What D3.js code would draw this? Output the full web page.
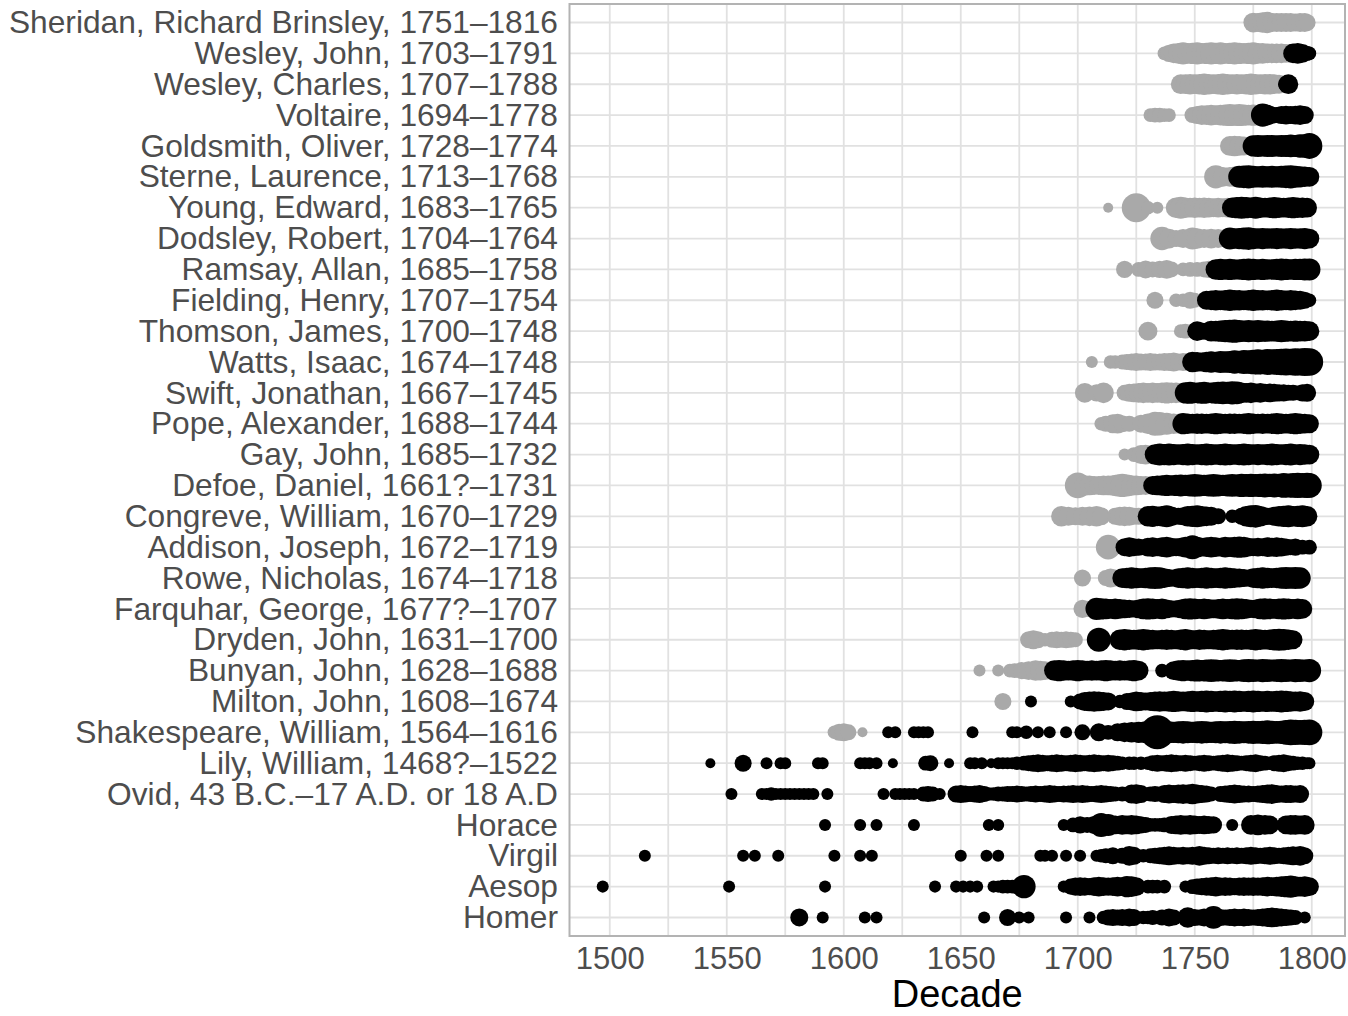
<!DOCTYPE html>
<html>
<head>
<meta charset="utf-8">
<script src="https://cdn.jsdelivr.net/npm/d3@7"></script>
<style>
  body { margin: 0; background: #fff; }
  text { font-family: "Liberation Sans", Arial, sans-serif; }
</style>
</head>
<body>
<div id="chart"></div>
<script>
// authors, top to bottom, and year of death (null = ancient, always black)
const authors = [
  "Sheridan, Richard Brinsley, 1751–1816", "Wesley, John, 1703–1791", "Wesley, Charles, 1707–1788",
  "Voltaire, 1694–1778", "Goldsmith, Oliver, 1728–1774", "Sterne, Laurence, 1713–1768",
  "Young, Edward, 1683–1765", "Dodsley, Robert, 1704–1764", "Ramsay, Allan, 1685–1758",
  "Fielding, Henry, 1707–1754", "Thomson, James, 1700–1748", "Watts, Isaac, 1674–1748",
  "Swift, Jonathan, 1667–1745", "Pope, Alexander, 1688–1744", "Gay, John, 1685–1732",
  "Defoe, Daniel, 1661?–1731", "Congreve, William, 1670–1729", "Addison, Joseph, 1672–1719",
  "Rowe, Nicholas, 1674–1718", "Farquhar, George, 1677?–1707", "Dryden, John, 1631–1700",
  "Bunyan, John, 1628–1688", "Milton, John, 1608–1674", "Shakespeare, William, 1564–1616",
  "Lily, William, 1468?–1522", "Ovid, 43 B.C.–17 A.D. or 18 A.D", "Horace", "Virgil", "Aesop", "Homer"
];
const deaths = [1816, 1791, 1788, 1778, 1774, 1768, 1765, 1764, 1758, 1754, 1748, 1748, 1745, 1744, 1732,
  1731, 1729, 1719, 1718, 1707, 1700, 1688, 1674, 1616, 1522, null, null, null, null, null];

// [year, number of editions]
const sheridan = [[1775,9],[1777,8],[1779,10],[1781,11],[1783,8],[1785,8],[1787,8],[1789,8],[1791,8],[1793,7],[1795,8],[1797,8],[1798,6]];
const wesleyJ = [[1737,3],[1739,6],[1741,9],[1743,10],[1745,12],[1747,10],[1749,11],[1751,12],[1753,10],[1755,11],[1757,12],[1759,11],[1761,12],[1763,10],[1765,11],[1767,12],[1769,11],[1771,10],[1773,11],[1775,12],[1777,10],[1779,10],[1781,9],[1783,9],[1785,9],[1787,9],[1789,8],[1791,8],[1792,9],[1794,10],[1796,8],[1798,4],[1799,3]];
const wesleyC = [[1744,9],[1746,9],[1748,10],[1750,9],[1752,10],[1754,11],[1756,10],[1758,9],[1760,10],[1762,11],[1764,10],[1766,9],[1768,10],[1770,9],[1772,10],[1774,11],[1776,10],[1778,9],[1780,10],[1782,10],[1784,9],[1786,8],[1789,5],[1790,9]];
const voltaire = [[1731,3],[1733,4],[1735,4],[1737,3],[1739,3],[1749,5],[1751,7],[1753,9],[1755,9],[1757,10],[1759,9],[1761,10],[1763,11],[1765,12],[1767,11],[1769,12],[1771,11],[1773,10],[1775,11],[1777,10],[1779,14],[1781,10],[1783,6],[1785,5],[1787,7],[1789,8],[1791,7],[1793,8],[1795,9],[1797,7]];
const goldsmith = [[1765,9],[1767,10],[1769,9],[1771,8],[1773,7],[1775,11],[1777,12],[1779,11],[1781,12],[1783,12],[1785,11],[1787,12],[1789,12],[1791,13],[1793,12],[1795,14],[1797,14],[1799,18]];
const sterne = [[1759,14],[1762,9],[1765,9],[1767,10],[1769,12],[1771,13],[1773,14],[1775,12],[1777,11],[1779,12],[1781,11],[1783,12],[1785,11],[1787,12],[1789,13],[1791,14],[1793,12],[1795,11],[1797,10],[1799,9]];
const young = [[1713,1],[1725,24],[1730,3],[1734,2],[1742,10],[1744,12],[1746,10],[1748,9],[1750,10],[1752,9],[1754,10],[1756,9],[1758,8],[1760,9],[1762,8],[1764,9],[1766,10],[1768,11],[1770,12],[1772,11],[1774,10],[1776,12],[1778,10],[1780,9],[1782,10],[1784,11],[1786,10],[1788,9],[1790,10],[1792,11],[1794,10],[1796,10],[1798,9]];
const dodsley = [[1736,14],[1739,9],[1742,6],[1745,8],[1749,12],[1751,10],[1754,8],[1757,9],[1760,8],[1765,12],[1767,10],[1769,11],[1771,12],[1773,13],[1775,11],[1777,10],[1779,11],[1781,10],[1783,10],[1785,11],[1787,10],[1789,10],[1791,11],[1793,10],[1795,10],[1797,11],[1799,9]];
const ramsay = [[1720,6],[1726,4],[1729,7],[1732,5],[1735,6],[1738,8],[1740,5],[1745,3],[1748,4],[1751,4],[1754,5],[1756,6],[1759,10],[1761,11],[1763,10],[1765,11],[1767,10],[1769,10],[1771,11],[1773,12],[1775,11],[1777,10],[1779,11],[1781,10],[1783,10],[1785,11],[1787,12],[1789,11],[1791,10],[1793,11],[1795,11],[1797,12],[1799,12]];
const fielding = [[1733,6],[1742,3],[1745,3],[1748,6],[1750,4],[1755,8],[1757,9],[1759,10],[1761,9],[1763,10],[1765,11],[1767,10],[1769,10],[1771,9],[1773,10],[1775,11],[1777,10],[1779,10],[1781,9],[1783,10],[1785,11],[1787,10],[1789,9],[1791,10],[1793,9],[1795,8],[1797,6],[1799,3]];
const thomson = [[1730,8],[1744,3],[1746,4],[1751,9],[1753,6],[1755,6],[1757,10],[1759,10],[1761,11],[1763,12],[1765,13],[1767,14],[1769,12],[1771,11],[1773,12],[1775,11],[1777,12],[1779,11],[1781,11],[1783,10],[1785,11],[1787,12],[1789,11],[1791,10],[1793,11],[1795,10],[1797,10],[1799,9]];
const watts = [[1706,2],[1714,3],[1716,3],[1719,4],[1721,5],[1723,6],[1725,7],[1727,6],[1729,6],[1731,7],[1733,6],[1735,6],[1737,7],[1739,7],[1741,8],[1743,6],[1745,7],[1747,7],[1749,10],[1751,9],[1753,8],[1755,10],[1757,11],[1759,10],[1761,12],[1763,11],[1765,12],[1767,14],[1769,13],[1771,15],[1773,14],[1775,16],[1777,17],[1779,16],[1781,18],[1783,17],[1785,18],[1787,19],[1789,20],[1791,19],[1793,21],[1795,20],[1797,22],[1799,21]];
const swift = [[1703,9],[1708,6],[1711,10],[1720,5],[1722,7],[1724,8],[1726,9],[1728,10],[1730,9],[1732,10],[1734,9],[1736,10],[1738,11],[1740,10],[1742,10],[1744,9],[1746,11],[1748,12],[1750,10],[1752,11],[1754,12],[1756,10],[1758,11],[1760,12],[1762,13],[1764,12],[1766,14],[1768,13],[1770,10],[1772,9],[1774,10],[1776,8],[1778,9],[1780,7],[1782,8],[1784,7],[1786,6],[1788,6],[1790,5],[1792,5],[1794,4],[1796,6],[1798,7]];
const pope = [[1710,3],[1712,5],[1715,8],[1717,9],[1719,6],[1722,5],[1727,7],[1730,10],[1733,15],[1735,14],[1738,12],[1741,10],[1743,9],[1745,11],[1747,10],[1749,9],[1751,10],[1753,10],[1755,9],[1757,10],[1759,11],[1761,10],[1763,9],[1765,10],[1767,10],[1769,9],[1771,10],[1773,11],[1775,10],[1777,9],[1779,10],[1781,9],[1783,10],[1785,11],[1787,10],[1789,9],[1791,10],[1793,11],[1795,10],[1797,9],[1799,8]];
const gay = [[1720,2],[1724,4],[1727,8],[1729,9],[1731,7],[1733,10],[1735,12],[1737,11],[1739,12],[1741,11],[1743,10],[1745,11],[1747,12],[1749,11],[1751,10],[1753,11],[1755,12],[1757,11],[1759,10],[1761,11],[1763,12],[1765,11],[1767,10],[1769,11],[1771,12],[1773,11],[1775,10],[1777,11],[1779,10],[1781,11],[1783,12],[1785,11],[1787,10],[1789,11],[1791,12],[1793,10],[1795,11],[1797,10],[1799,9]];
const defoe = [[1700,18],[1703,10],[1705,9],[1707,8],[1709,8],[1711,9],[1713,9],[1715,10],[1717,12],[1719,14],[1721,12],[1723,10],[1725,9],[1727,8],[1729,8],[1732,8],[1734,9],[1736,10],[1738,11],[1740,10],[1742,11],[1744,12],[1746,11],[1748,12],[1750,13],[1752,12],[1754,11],[1756,12],[1758,13],[1760,12],[1762,11],[1764,12],[1766,13],[1768,12],[1770,14],[1772,13],[1774,14],[1776,13],[1778,14],[1780,15],[1782,14],[1784,15],[1786,14],[1788,16],[1790,15],[1792,16],[1794,17],[1796,16],[1798,17],[1799,16]];
const congreve = [[1693,10],[1696,8],[1699,7],[1702,8],[1705,9],[1708,10],[1710,7],[1716,6],[1718,8],[1720,9],[1722,8],[1724,6],[1726,6],[1728,6],[1730,10],[1732,11],[1734,9],[1736,10],[1738,12],[1740,9],[1743,6],[1745,7],[1747,10],[1749,11],[1751,12],[1753,10],[1755,9],[1757,8],[1760,5],[1766,3],[1770,6],[1772,10],[1774,12],[1776,13],[1778,10],[1780,7],[1782,6],[1784,8],[1786,10],[1788,11],[1790,12],[1792,10],[1794,11],[1796,12],[1798,10]];
const addison = [[1713,16],[1720,7],[1722,9],[1724,7],[1726,6],[1728,5],[1730,8],[1732,9],[1734,7],[1736,9],[1738,10],[1740,8],[1742,7],[1744,8],[1746,10],[1749,15],[1751,10],[1753,8],[1755,9],[1757,10],[1759,9],[1761,8],[1763,10],[1765,9],[1767,10],[1769,11],[1771,10],[1773,8],[1775,7],[1777,8],[1779,7],[1781,9],[1783,8],[1785,9],[1787,8],[1789,6],[1791,5],[1793,6],[1796,4],[1799,4]];
const rowe = [[1702,6],[1712,5],[1714,8],[1716,6],[1719,9],[1721,10],[1723,11],[1725,10],[1727,9],[1729,10],[1731,11],[1733,12],[1735,11],[1737,9],[1739,7],[1741,6],[1743,9],[1745,10],[1747,11],[1749,10],[1751,9],[1753,10],[1755,11],[1757,10],[1759,9],[1761,10],[1763,11],[1765,10],[1767,9],[1769,8],[1771,7],[1773,6],[1775,9],[1777,10],[1779,11],[1781,10],[1783,9],[1785,10],[1787,11],[1789,12],[1791,11],[1793,12],[1795,11]];
const farquhar = [[1702,7],[1704,5],[1708,12],[1710,11],[1712,10],[1714,9],[1716,10],[1718,9],[1720,8],[1722,7],[1724,6],[1726,8],[1728,10],[1730,11],[1732,10],[1734,9],[1736,10],[1738,8],[1740,6],[1742,6],[1744,8],[1746,10],[1748,11],[1750,10],[1752,9],[1754,10],[1756,9],[1758,8],[1760,9],[1762,10],[1764,9],[1766,10],[1768,11],[1770,10],[1772,9],[1774,7],[1776,8],[1778,10],[1780,11],[1782,10],[1784,9],[1786,10],[1788,11],[1790,10],[1792,9],[1794,10],[1796,9]];
const dryden = [[1679,6],[1681,8],[1683,6],[1686,3],[1689,5],[1691,6],[1693,5],[1695,6],[1697,5],[1699,4],[1709,15],[1718,10],[1720,11],[1722,10],[1724,9],[1726,10],[1728,11],[1730,10],[1732,9],[1734,8],[1736,9],[1738,10],[1740,9],[1742,8],[1744,10],[1746,11],[1748,9],[1750,8],[1752,10],[1754,9],[1756,8],[1758,9],[1760,10],[1762,11],[1764,10],[1766,9],[1768,10],[1770,10],[1772,9],[1774,10],[1776,11],[1778,10],[1780,9],[1782,10],[1784,11],[1786,12],[1788,11],[1790,10],[1792,8]];
const bunyan = [[1658,2],[1666,2],[1671,3],[1673,4],[1676,6],[1679,8],[1682,10],[1684,9],[1686,8],[1688,7],[1690,10],[1692,11],[1694,10],[1696,9],[1698,10],[1700,11],[1702,10],[1704,9],[1706,10],[1708,9],[1710,10],[1712,11],[1714,10],[1716,9],[1718,10],[1720,9],[1722,10],[1724,11],[1726,9],[1736,3],[1741,8],[1743,10],[1745,11],[1747,10],[1749,11],[1751,12],[1753,11],[1755,12],[1757,13],[1759,12],[1761,11],[1763,12],[1765,13],[1767,12],[1769,11],[1771,13],[1773,14],[1775,13],[1777,12],[1779,14],[1781,13],[1783,12],[1785,13],[1787,14],[1789,13],[1791,12],[1793,14],[1795,13],[1797,12],[1799,14]];
const milton = [[1668,6],[1680,2],[1697,2],[1701,5],[1703,8],[1705,9],[1707,10],[1709,9],[1711,8],[1713,7],[1718,3],[1721,6],[1723,7],[1725,9],[1727,8],[1729,7],[1731,8],[1733,9],[1735,10],[1737,9],[1739,10],[1741,11],[1743,10],[1745,9],[1747,10],[1749,11],[1751,10],[1753,11],[1755,12],[1757,11],[1759,10],[1761,11],[1763,12],[1765,11],[1767,12],[1769,11],[1771,10],[1773,11],[1775,12],[1777,11],[1779,10],[1781,11],[1783,10],[1785,11],[1787,12],[1789,11],[1791,10],[1793,9],[1795,10],[1797,8]];
const shakespeare = [[1596,3],[1598,6],[1600,7],[1602,5],[1608,1],[1619,2],[1622,2],[1630,2],[1632,2],[1634,2],[1636,2],[1655,2],[1672,2],[1674,2],[1678,3],[1683,2],[1688,2],[1695,2],[1702,5],[1709,7],[1713,4],[1717,7],[1720,9],[1723,10],[1726,11],[1729,12],[1734,35],[1739,12],[1741,11],[1743,12],[1745,13],[1747,12],[1749,11],[1751,12],[1753,13],[1755,12],[1757,11],[1759,12],[1761,13],[1763,12],[1765,13],[1767,14],[1769,13],[1771,12],[1773,13],[1775,14],[1777,13],[1779,14],[1781,15],[1783,14],[1785,13],[1787,14],[1789,16],[1791,18],[1793,17],[1795,16],[1797,17],[1799,18]];
const lily = [[1543,1],[1557,6],[1567,2],[1573,2],[1575,2],[1589,2],[1591,2],[1607,2],[1609,2],[1611,2],[1614,2],[1621,1],[1635,4],[1637,5],[1645,1],[1654,2],[1656,2],[1659,2],[1663,1],[1666,2],[1668,2],[1670,2],[1672,2],[1674,3],[1677,4],[1679,5],[1681,6],[1683,7],[1685,6],[1687,5],[1689,6],[1691,7],[1693,6],[1695,5],[1697,6],[1699,7],[1701,6],[1703,5],[1705,6],[1707,7],[1709,6],[1711,5],[1713,6],[1715,5],[1717,4],[1719,3],[1722,3],[1724,3],[1727,3],[1730,3],[1732,5],[1734,6],[1736,5],[1738,6],[1740,7],[1742,6],[1744,5],[1746,6],[1748,5],[1750,4],[1752,5],[1754,6],[1756,5],[1758,4],[1760,5],[1762,6],[1764,7],[1766,6],[1768,5],[1770,4],[1772,5],[1774,6],[1776,7],[1778,5],[1780,4],[1782,3],[1784,5],[1786,6],[1788,7],[1790,5],[1792,4],[1794,3],[1796,3],[1798,2],[1799,2]];
const ovid = [[1552,2],[1565,2],[1567,2],[1569,3],[1571,2],[1573,2],[1575,2],[1577,2],[1579,2],[1581,2],[1583,2],[1585,2],[1587,2],[1593,2],[1617,2],[1622,2],[1624,2],[1626,2],[1628,2],[1630,2],[1634,4],[1636,5],[1638,4],[1641,2],[1648,6],[1650,7],[1652,6],[1654,5],[1656,6],[1658,7],[1660,5],[1662,3],[1664,3],[1666,4],[1668,4],[1670,5],[1672,5],[1674,6],[1676,5],[1678,4],[1680,5],[1682,6],[1684,5],[1686,6],[1688,7],[1690,6],[1692,5],[1694,6],[1696,6],[1698,7],[1700,6],[1702,7],[1704,6],[1706,5],[1708,6],[1710,7],[1712,6],[1714,5],[1716,4],[1719,4],[1723,8],[1725,9],[1727,7],[1731,4],[1733,5],[1735,4],[1737,7],[1739,8],[1741,7],[1743,8],[1745,9],[1747,8],[1749,10],[1751,8],[1753,7],[1755,6],[1757,4],[1761,5],[1763,6],[1765,7],[1767,8],[1769,7],[1771,6],[1773,6],[1775,5],[1777,6],[1779,7],[1781,8],[1783,9],[1785,7],[1787,6],[1789,7],[1791,7],[1793,6],[1795,7]];
const horace = [[1592,2],[1607,2],[1614,2],[1630,2],[1662,2],[1666,2],[1694,2],[1698,4],[1701,6],[1704,5],[1707,7],[1710,15],[1713,12],[1716,8],[1719,9],[1721,8],[1723,9],[1725,8],[1727,6],[1729,5],[1731,3],[1733,3],[1735,3],[1737,4],[1740,7],[1742,8],[1744,9],[1746,8],[1748,9],[1750,8],[1752,7],[1754,8],[1756,7],[1758,6],[1766,2],[1774,9],[1777,10],[1780,9],[1782,8],[1789,8],[1791,9],[1793,9],[1795,8],[1797,9]];
const virgil = [[1515,2],[1557,2],[1562,2],[1572,2],[1596,2],[1607,2],[1612,2],[1650,2],[1661,2],[1666,2],[1684,2],[1686,2],[1689,2],[1695,2],[1701,2],[1708,2],[1710,3],[1712,4],[1715,6],[1719,5],[1722,9],[1724,7],[1728,3],[1731,4],[1733,5],[1735,6],[1737,7],[1739,8],[1741,7],[1743,6],[1745,7],[1747,6],[1749,7],[1752,9],[1754,7],[1756,6],[1758,5],[1760,6],[1762,5],[1764,6],[1766,5],[1768,6],[1770,5],[1772,6],[1774,7],[1776,6],[1778,5],[1780,6],[1782,7],[1784,6],[1786,5],[1788,6],[1790,7],[1792,8],[1795,9],[1797,6]];
const aesop = [[1497,2],[1551,2],[1592,2],[1639,2],[1648,2],[1651,2],[1654,2],[1657,2],[1664,2],[1666,2],[1668,3],[1670,3],[1672,3],[1674,4],[1677,14],[1694,2],[1697,5],[1699,7],[1701,8],[1703,7],[1705,6],[1707,8],[1709,9],[1711,8],[1713,7],[1715,8],[1717,9],[1719,8],[1721,11],[1723,10],[1725,8],[1730,3],[1732,3],[1734,3],[1737,3],[1746,2],[1749,4],[1751,5],[1753,6],[1755,7],[1757,8],[1759,9],[1761,7],[1763,8],[1765,7],[1767,6],[1769,7],[1771,8],[1773,7],[1775,8],[1777,7],[1779,8],[1781,9],[1783,8],[1785,9],[1787,10],[1789,11],[1791,12],[1793,10],[1795,9],[1797,10],[1799,8]];
const homer = [[1581,7],[1591,2],[1609,2],[1614,2],[1660,2],[1670,6],[1675,2],[1679,2],[1695,2],[1705,2],[1711,3],[1713,5],[1715,6],[1717,5],[1719,6],[1722,7],[1724,6],[1728,3],[1730,3],[1732,4],[1734,3],[1736,5],[1739,7],[1741,5],[1747,10],[1750,6],[1752,5],[1754,7],[1758,13],[1761,6],[1763,5],[1765,6],[1767,7],[1769,6],[1771,7],[1773,6],[1775,5],[1777,6],[1779,7],[1781,8],[1783,9],[1785,8],[1787,7],[1789,6],[1791,5],[1793,4],[1797,2]];

const rows = [sheridan, wesleyJ, wesleyC, voltaire, goldsmith, sterne, young, dodsley, ramsay, fielding,
  thomson, watts, swift, pope, gay, defoe, congreve, addison, rowe, farquhar, dryden, bunyan, milton,
  shakespeare, lily, ovid, horace, virgil, aesop, homer];

const xTickLabels = [1500, 1550, 1600, 1650, 1700, 1750, 1800];
const xGrid = [1500, 1525, 1550, 1575, 1600, 1625, 1650, 1675, 1700, 1725, 1750, 1775, 1800];

let width = 1348;
let height = 1016;
let panel = { left: 569.5, right: 1345, top: 4, bottom: 936 };

// flatten into one point per year
let points = [];
rows.forEach(function(r, i) {
  r.forEach(function(d) {
    points.push({ author: authors[i], year: d[0], n: d[1],
                  alive: deaths[i] != null && d[0] <= deaths[i] });
  });
});

let svg = d3.select("#chart")
            .append("svg")
            .attr("width", width)
            .attr("height", height);

// scales
let xScale = d3.scaleLinear()
               .domain([1482.8, 1814.2])
               .range([panel.left, panel.right]);

let yScale = d3.scalePoint()
               .domain(authors)
               .range([panel.top, panel.bottom])
               .padding(0.6);

let rScale = d3.scaleSqrt()
               .domain([1, 35])
               .range([5, 17]);

// grid
svg.append("g")
   .selectAll("line.vgrid")
   .data(xGrid)
   .enter().append("line")
   .attr("x1", d => xScale(d)).attr("x2", d => xScale(d))
   .attr("y1", panel.top).attr("y2", panel.bottom)
   .attr("stroke", "#e1e1e1")
   .attr("stroke-width", 1.8);

svg.append("g")
   .selectAll("line.hgrid")
   .data(authors)
   .enter().append("line")
   .attr("x1", panel.left).attr("x2", panel.right)
   .attr("y1", d => yScale(d)).attr("y2", d => yScale(d))
   .attr("stroke", "#e1e1e1")
   .attr("stroke-width", 1.8);

// points
svg.append("g")
   .selectAll("circle")
   .data(points)
   .enter().append("circle")
   .attr("cx", d => xScale(d.year))
   .attr("cy", d => yScale(d.author))
   .attr("r", d => rScale(d.n))
   .attr("fill", d => d.alive ? "#a9a9a9" : "#000");

// panel border
svg.append("rect")
   .attr("x", panel.left)
   .attr("y", panel.top)
   .attr("width", panel.right - panel.left)
   .attr("height", panel.bottom - panel.top)
   .attr("fill", "none")
   .attr("stroke", "#b3b3b3")
   .attr("stroke-width", 2);

// axes
let xAxis = d3.axisBottom(xScale)
              .tickValues(xTickLabels)
              .tickFormat(d3.format("d"))
              .tickSize(0)
              .tickPadding(10.5);

let yAxis = d3.axisLeft(yScale)
              .tickSize(0)
              .tickPadding(11.5);

let gx = svg.append("g")
            .attr("transform", "translate(0," + panel.bottom + ")")
            .call(xAxis);
gx.select(".domain").remove();
gx.selectAll("text")
  .attr("font-size", 31)
  .attr("font-family", "Liberation Sans, Arial, sans-serif")
  .attr("fill", "#4d4d4d");

let gy = svg.append("g")
            .attr("transform", "translate(" + panel.left + ",0)")
            .call(yAxis);
gy.select(".domain").remove();
gy.selectAll("text")
  .attr("font-size", 31.7)
  .attr("font-family", "Liberation Sans, Arial, sans-serif")
  .attr("fill", "#4d4d4d");

svg.append("text")
   .attr("x", (panel.left + panel.right) / 2)
   .attr("y", 1007)
   .attr("text-anchor", "middle")
   .attr("font-size", 38)
   .attr("fill", "#000")
   .text("Decade");
</script>
</body>
</html>
